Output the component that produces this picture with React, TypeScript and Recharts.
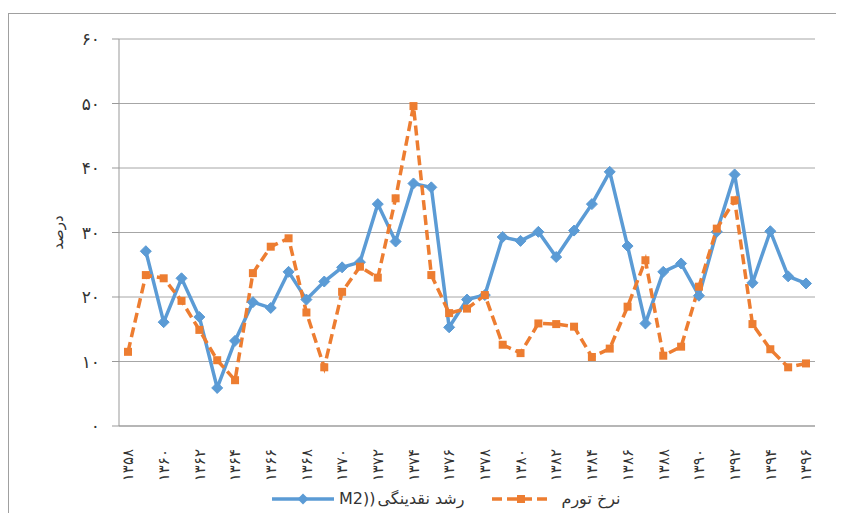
import React from 'react';
import { LineChart, Line, XAxis, YAxis, CartesianGrid, Legend } from 'recharts';

const years = ['1358','1359','1360','1361','1362','1363','1364','1365','1366','1367','1368','1369','1370','1371','1372','1373','1374','1375','1376','1377','1378','1379','1380','1381','1382','1383','1384','1385','1386','1387','1388','1389','1390','1391','1392','1393','1394','1395','1396'];
const m2Growth: (number | null)[] = [null, 27.1, 16.1, 22.9, 16.9, 5.9, 13.2, 19.2, 18.3, 23.9, 19.6, 22.4, 24.6, 25.4, 34.4, 28.6, 37.6, 37.0, 15.3, 19.6, 20.3, 29.3, 28.7, 30.1, 26.2, 30.3, 34.4, 39.4, 27.9, 15.9, 23.9, 25.2, 20.2, 30.1, 39.0, 22.2, 30.2, 23.2, 22.1];
const inflation: number[] = [11.5, 23.4, 22.9, 19.4, 14.9, 10.2, 7.1, 23.7, 27.8, 29.1, 17.6, 9.1, 20.8, 24.7, 23.0, 35.3, 49.6, 23.4, 17.5, 18.2, 20.3, 12.6, 11.3, 15.9, 15.8, 15.4, 10.7, 12.0, 18.5, 25.7, 10.9, 12.3, 21.6, 30.6, 35.0, 15.8, 11.9, 9.1, 9.7];
const yTicks = [0, 10, 20, 30, 40, 50, 60];
const seriesNames = ['رشد نقدینگی(M2)', 'نرخ تورم'];
const legendLabels = ['M2))', 'رشد نقدینگی'];
const yLabel = 'درصد';

const BLUE = '#5B9BD5';
const ORANGE = '#ED7D31';
const FONT = '"DejaVu Sans", sans-serif';

const data = years.map((y, i) => ({ year: y, m2: m2Growth[i], inf: inflation[i] }));

const toFa = (s: string | number) => String(s).replace(/\d/g, (d) => '۰۱۲۳۴۵۶۷۸۹'[+d]);

const Diamond = (props: any) => {
  const { cx, cy, index } = props;
  if (cx == null || cy == null || props.value == null) return <g key={'d' + index} />;
  const r = 5.5;
  return <polygon key={'d' + index} points={`${cx},${cy - r} ${cx + r},${cy} ${cx},${cy + r} ${cx - r},${cy}`} fill={BLUE} stroke={BLUE} />;
};

const Square = (props: any) => {
  const { cx, cy, index } = props;
  if (cx == null || cy == null) return <g key={'s' + index} />;
  const r = 4;
  return <rect key={'s' + index} x={cx - r} y={cy - r} width={2 * r} height={2 * r} fill={ORANGE} />;
};

const XTick = (props: any) => {
  const { x, y, payload } = props;
  const ty = y + 21;
  return (
    <text x={x} y={ty} transform={`rotate(-90 ${x} ${ty})`} textAnchor="end" dy="0.35em" fontSize={15} fill="#333" fontFamily={FONT}>
      {toFa(payload.value)}
    </text>
  );
};

const YLabel = (props: any) => {
  const { viewBox } = props;
  const cx = 50;
  const cy = viewBox.y + viewBox.height / 2;
  return (
    <text x={cx} y={cy} transform={`rotate(-90 ${cx} ${cy})`} textAnchor="middle" dy="0.35em" fontSize={15} fill="#333" fontFamily={FONT}>
      {yLabel}
    </text>
  );
};

const LegendContent = () => (
  <div style={{ display: 'flex', alignItems: 'center', fontFamily: FONT, fontSize: 16, color: '#333', whiteSpace: 'nowrap' }}>
    <svg width={62} height={14} style={{ display: 'block' }}>
      <line x1={0} y1={7} x2={62} y2={7} stroke={BLUE} strokeWidth={3.5} />
      <polygon points="31,1.5 36.5,7 31,12.5 25.5,7" fill={BLUE} />
    </svg>
    <span style={{ marginLeft: 5 }}>{legendLabels[0]}</span>
    <span style={{ marginLeft: 2 }}>{legendLabels[1]}</span>
    <svg width={58} height={14} style={{ display: 'block', marginLeft: 28 }}>
      <line x1={0} y1={7} x2={58} y2={7} stroke={ORANGE} strokeWidth={3.5} strokeDasharray="10 5" />
      <rect x={25} y={3} width={8} height={8} fill={ORANGE} />
    </svg>
    <span style={{ marginLeft: 11 }}>{seriesNames[1]}</span>
  </div>
);

export default function App() {
  return (
    <div style={{ position: 'relative', width: 836, height: 505 }}>
      <div style={{ position: 'absolute', left: 0, top: 5, width: 835, height: 499, borderTop: '1px solid #a0a0a0', borderLeft: '1px solid #a0a0a0' }} />
      <div style={{ position: 'absolute', left: 0, top: 0 }}>
        <LineChart width={836} height={505} data={data} margin={{ top: 31, right: 29, left: 0, bottom: 27 }}>
          <CartesianGrid vertical={false} stroke="#a6a6a6" strokeWidth={1} />
          <XAxis dataKey="year" type="category" interval={1} padding={{ left: 9, right: 9 }} tick={<XTick />} tickLine={false} tickSize={0} height={60} axisLine={{ stroke: '#999' }} />
          <YAxis domain={[0, 60]} ticks={yTicks} width={111} tickSize={7} tickMargin={12} tickLine={{ stroke: '#999' }} axisLine={{ stroke: '#999' }} tickFormatter={(v: number) => toFa(v)} tick={{ fontSize: 17, fill: '#333', fontFamily: FONT }} label={<YLabel />} />
          <Legend verticalAlign="middle" align="center" layout="horizontal" content={<LegendContent />} wrapperStyle={{ position: 'absolute', top: 481, left: 264, width: 'auto' }} />
          <Line name={seriesNames[0]} dataKey="m2" stroke={BLUE} strokeWidth={3.5} dot={Diamond} activeDot={false} isAnimationActive={false} connectNulls={false} />
          <Line name={seriesNames[1]} dataKey="inf" stroke={ORANGE} strokeWidth={3.5} strokeDasharray="10 5" dot={Square} activeDot={false} isAnimationActive={false} />
        </LineChart>
      </div>
    </div>
  );
}
